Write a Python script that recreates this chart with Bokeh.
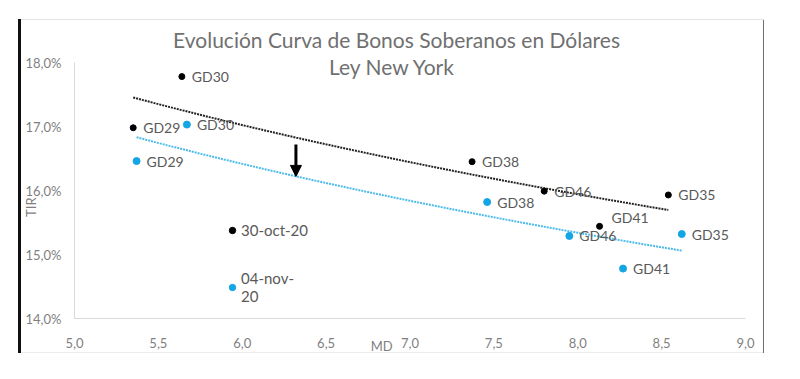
import numpy as np
from bokeh.plotting import figure
from bokeh.models import (ColumnDataSource, LabelSet, Arrow, NormalHead,
                          Range1d, FixedTicker, Legend, LegendItem)
from bokeh.core.properties import value
from bokeh.embed import file_html
from bokeh.resources import INLINE

# ---------------- data ----------------
bonds_oct = ["GD29", "GD30", "GD38", "GD46", "GD41", "GD35"]
md_oct = [5.35, 5.64, 7.37, 7.80, 8.13, 8.54]
tir_oct = [16.98, 17.78, 16.45, 15.99, 15.44, 15.93]

bonds_nov = ["GD29", "GD30", "GD38", "GD46", "GD41", "GD35"]
md_nov = [5.37, 5.67, 7.46, 7.95, 8.27, 8.62]
tir_nov = [16.46, 17.03, 15.82, 15.29, 14.78, 15.32]

series_names = ["30-oct-20", "04-nov-\n20"]
y_ticks = [14, 15, 16, 17, 18]
y_tick_labels = ["14,0%", "15,0%", "16,0%", "17,0%", "18,0%"]
x_ticks = [5.0, 5.5, 6.0, 6.5, 7.0, 7.5, 8.0, 8.5, 9.0]
x_tick_labels = ["5,0", "5,5", "6,0", "6,5", "7,0", "7,5", "8,0", "8,5", "9,0"]

title_lines = ["Evolución Curva de Bonos Soberanos en Dólares", "Ley New York"]
x_title = "MD"
y_title = "TIR"

# label placement (style): which labels sit above the point instead of right
label_above = {("oct", "GD41")}

FONT = "Lato"
BLACK = "#000000"
BLUE = "#14A5E4"
BLUE_TREND = "#4DBBEA"
TXT = "#595959"
NBSP = "\u00a0"

p = figure(width=784, height=363, output_backend="svg", toolbar_location=None,
           x_range=Range1d(5, 9), y_range=Range1d(14, 18),
           min_border_left=74, min_border_right=39, min_border_top=62,
           min_border_bottom=45)
# chart-area frame lines (thick black left edge, light top/bottom, grey right)
p.styles = {
    "background-image": ("linear-gradient(#111111,#111111), "
                         "linear-gradient(#e2e2e2,#e2e2e2), "
                         "linear-gradient(#6f6f6f,#6f6f6f), "
                         "linear-gradient(#ececec,#ececec)"),
    "background-position": "18px 19px, 18px 19px, 763px 19px, 18px 352px",
    "background-size": "3px 334px, 746px 1px, 1px 334px, 746px 1px",
    "background-repeat": "no-repeat",
}
p.outline_line_color = None
p.xgrid.visible = False
p.ygrid.visible = False
p.background_fill_color = "white"
p.border_fill_color = None

# title (two lines, the second one centred under the first)
p.title.text = title_lines[0] + NBSP * 5 + "\n" + NBSP * 29 + title_lines[1]
p.title.align = "center"
p.title.standoff = -32
p.title.text_font = FONT
p.title.text_font_size = "21px"
p.title.text_font_style = "normal"
p.title.text_color = "#707070"
p.title.text_line_height = 1.08

for ax in (p.xaxis[0], p.yaxis[0]):
    ax.axis_line_color = "#d9d9d9"
    ax.axis_line_width = 1
    ax.major_tick_line_color = None
    ax.minor_tick_line_color = None
    ax.major_tick_in = 0
    ax.major_tick_out = 0
    ax.major_label_text_font = FONT
    ax.major_label_text_font_size = "13px"
    ax.major_label_text_color = "#7f7f7f"
    ax.major_label_standoff = 13
    ax.axis_label_text_font = FONT
    ax.axis_label_text_font_size = "13px"
    ax.axis_label_text_font_style = "normal"
    ax.axis_label_text_color = "#7f7f7f"

p.xaxis.major_label_standoff = 19
p.xaxis.ticker = FixedTicker(ticks=x_ticks)
p.xaxis.major_label_overrides = {t: l for t, l in zip(x_ticks, x_tick_labels)}
p.yaxis.ticker = FixedTicker(ticks=y_ticks)
p.yaxis.major_label_overrides = {t: l for t, l in zip(y_ticks, y_tick_labels)}

# axis titles sit off-centre in the original: pad with non-breaking spaces
p.xaxis.axis_label = x_title + NBSP * 17
p.xaxis.axis_label_standoff = -13
p.yaxis.axis_label = y_title + NBSP * 10
p.yaxis.axis_label_standoff = -16

# ------------- trendlines (log fit from the data) -------------
def log_trend(xs, ys):
    xs = np.asarray(xs, float)
    ys = np.asarray(ys, float)
    a, b = np.polyfit(np.log(xs), ys, 1)
    xx = np.linspace(xs.min(), xs.max(), 60)
    return xx, a * np.log(xx) + b

tx, ty = log_trend(md_oct, tir_oct)
p.line(tx, ty, line_color="#222222", line_width=2, line_dash="2 1")
tx, ty = log_trend(md_nov, tir_nov)
p.line(tx, ty, line_color=BLUE_TREND, line_width=2, line_dash="2 1")

# ------------- points -------------
src_oct = ColumnDataSource(dict(x=md_oct, y=tir_oct, name=bonds_oct))
src_nov = ColumnDataSource(dict(x=md_nov, y=tir_nov, name=bonds_nov))
r_oct = p.scatter("x", "y", source=src_oct, size=6, color=BLACK)
r_nov = p.scatter("x", "y", source=src_nov, size=7, color=BLUE)

def add_labels(tag, bonds, xs, ys):
    right = [i for i, b in enumerate(bonds) if (tag, b) not in label_above]
    above = [i for i, b in enumerate(bonds) if (tag, b) in label_above]
    s_r = ColumnDataSource(dict(x=[xs[i] for i in right], y=[ys[i] for i in right],
                                name=[bonds[i] for i in right]))
    p.add_layout(LabelSet(x="x", y="y", text="name", source=s_r, x_offset=10,
                          y_offset=0, text_baseline="middle", text_font=value(FONT),
                          text_font_size="14px", text_color=TXT))
    if above:
        s_a = ColumnDataSource(dict(x=[xs[i] for i in above], y=[ys[i] for i in above],
                                    name=[bonds[i] for i in above]))
        p.add_layout(LabelSet(x="x", y="y", text="name", source=s_a, x_offset=12,
                              y_offset=9, text_baseline="middle", text_font=value(FONT),
                              text_font_size="14px", text_color=TXT))

add_labels("oct", bonds_oct, md_oct, tir_oct)
add_labels("nov", bonds_nov, md_nov, tir_nov)

# ------------- arrow annotation -------------
ARROW_X, ARROW_Y0, ARROW_Y1 = 6.32, 16.72, 16.22
p.add_layout(Arrow(end=NormalHead(size=11, fill_color="black", line_color="black"),
                   x_start=ARROW_X, y_start=ARROW_Y0, x_end=ARROW_X, y_end=ARROW_Y1,
                   line_width=3, line_color="black"))

# ------------- legend -------------
legend = Legend(items=[LegendItem(label=series_names[0], renderers=[r_oct]),
                       LegendItem(label=series_names[1], renderers=[r_nov])],
                location=(150, 13), orientation="vertical",
                label_text_font=FONT, label_text_font_size="15px",
                label_text_color=TXT, label_text_line_height=1.3,
                background_fill_alpha=0,
                border_line_color=None, glyph_width=16, glyph_height=16,
                label_standoff=1, spacing=30, padding=0, margin=0)
p.add_layout(legend, "center")

open("out.html", "w").write(file_html(p, INLINE))
